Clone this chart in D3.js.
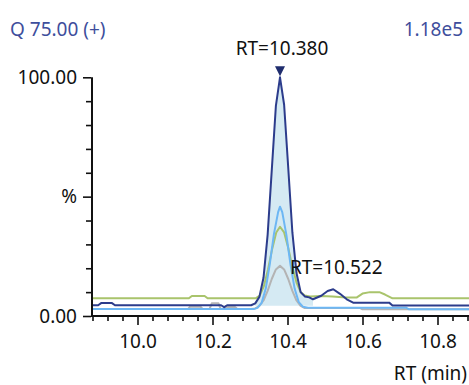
<!DOCTYPE html>
<html>
<head>
<meta charset="utf-8">
<script src="https://cdn.jsdelivr.net/npm/d3@7"></script>
<style>
  html, body { margin: 0; padding: 0; background: #ffffff; }
  svg { display: block; }
  text { font-family: "Noto Sans", "DejaVu Sans", sans-serif; }
</style>
</head>
<body>
<svg id="chart" width="469" height="385"></svg>
<script>
// Chromatogram traces: retention time (min) and relative intensity (%)
const navyRT  = [9.879, 9.895, 9.903, 9.932, 9.940, 10.223, 10.231, 10.239, 10.303, 10.314, 10.325, 10.336, 10.347, 10.358, 10.369, 10.380, 10.391, 10.402, 10.413, 10.424, 10.435, 10.446, 10.458, 10.468, 10.490, 10.507, 10.522, 10.540, 10.558, 10.575, 10.671, 10.680, 10.884];
const navyVal = [4.5, 4.5, 5.4, 5.4, 4.5, 4.5, 3.7, 4.5, 4.5, 5.3, 8.0, 16.0, 34.0, 61.0, 88.0, 100.0, 88.5, 62.0, 35.0, 18.0, 10.0, 8.2, 7.8, 7.0, 8.5, 10.5, 11.2, 9.3, 7.0, 5.6, 5.6, 4.4, 4.4];

const greenRT  = [9.879, 10.137, 10.145, 10.179, 10.187, 10.315, 10.326, 10.337, 10.348, 10.359, 10.370, 10.380, 10.391, 10.402, 10.413, 10.424, 10.435, 10.446, 10.460, 10.490, 10.520, 10.555, 10.585, 10.600, 10.620, 10.645, 10.660, 10.680, 10.884];
const greenVal = [7.4, 7.4, 8.4, 8.4, 7.4, 7.4, 8.5, 12.5, 19.5, 28.0, 35.0, 37.4, 35.0, 28.5, 20.5, 14.0, 10.0, 8.6, 8.2, 8.4, 8.2, 7.8, 7.8, 9.4, 10.0, 10.0, 9.0, 7.4, 7.4];

const skyRT  = [9.879, 10.310, 10.320, 10.331, 10.342, 10.353, 10.364, 10.375, 10.380, 10.386, 10.397, 10.408, 10.419, 10.430, 10.441, 10.455, 10.716, 10.724, 10.884];
const skyVal = [2.9, 2.9, 3.4, 5.5, 11.5, 22.0, 34.5, 43.5, 45.8, 43.5, 34.0, 21.5, 11.5, 5.8, 3.9, 3.5, 3.5, 2.8, 2.8];

const greyRT  = [9.879, 10.135, 10.140, 10.168, 10.174, 10.192, 10.198, 10.216, 10.222, 10.232, 10.238, 10.260, 10.266, 10.303, 10.314, 10.325, 10.336, 10.347, 10.358, 10.369, 10.380, 10.391, 10.402, 10.413, 10.424, 10.435, 10.446, 10.460, 10.594, 10.600, 10.884];
const greyVal = [2.9, 2.9, 3.9, 3.9, 2.9, 2.9, 5.3, 5.3, 2.9, 2.9, 3.8, 3.8, 2.9, 2.9, 3.2, 4.2, 6.5, 10.5, 15.5, 19.5, 21.0, 19.5, 15.5, 10.5, 6.5, 4.2, 3.3, 3.3, 3.3, 2.8, 2.8];

// Integrated peak window and its baseline
const peakWindow = [10.312, 10.468];
const peakBaseline = 4.3;

// Annotated apexes
const apexRT = [10.380, 10.522];
const apexVal = [100.0, 11.2];
const apexLabels = ["RT=10.380", "RT=10.522"];

// Axis ticks
const xMinorTicks = d3.range(0, 26).map(i => +(9.88 + i * 0.04).toFixed(2));
const xMajorTicks = [10.0, 10.2, 10.4, 10.6, 10.8];
const xTickLabels = ["10.0", "10.2", "10.4", "10.6", "10.8"];
const yMinorTicks = [10, 20, 30, 40, 60, 70, 80, 90];
const yMajorTicks = [0, 50, 100];
const yTickLabels = ["0.00", "%", "100.00"];

const titleText = "Q 75.00 (+)";
const scaleText = "1.18e5";
const xAxisTitle = "RT (min)";

const svg = d3.select("#chart");

const x = d3.scaleLinear().domain([9.88, 10.884]).range([92.5, 469]);
const y = d3.scaleLinear().domain([0, 100]).range([316, 77.3]);

const toPts = (rts, vals) => rts.map((r, i) => [r, vals[i]]);
const line = d3.line().x(d => x(d[0])).y(d => y(d[1]));

// Shaded peak area between the navy trace and the baseline
const navyPts = toPts(navyRT, navyVal);
const inWin = navyPts.filter(d => d[0] >= peakWindow[0] && d[0] <= peakWindow[1]);
const area = d3.area().x(d => x(d[0])).y0(y(peakBaseline)).y1(d => y(d[1]));
svg.append("path")
  .datum([[peakWindow[0], peakBaseline + 0.8], ...inWin, [peakWindow[1], 7.1]])
  .attr("d", area)
  .attr("fill", "#d5eaf3");

const traces = [
  { pts: toPts(greyRT, greyVal), color: "#b4b4b4" },
  { pts: toPts(greenRT, greenVal), color: "#a9c46c" },
  { pts: toPts(skyRT, skyVal), color: "#6db7f4" },
  { pts: navyPts, color: "#2c3c8c" }
];
traces.forEach(t => {
  svg.append("path")
    .datum(t.pts)
    .attr("d", line)
    .attr("fill", "none")
    .attr("stroke", t.color)
    .attr("stroke-width", 2)
    .attr("stroke-linejoin", "round");
});

// Axes
const axisColor = "#111";
const xMinor = svg.append("g").attr("transform", "translate(0,317)")
  .call(d3.axisBottom(x).tickValues(xMinorTicks.filter(v => !xMajorTicks.some(m => Math.abs(m - v) < 1e-6))).tickSize(4).tickFormat(""));
const xMajor = svg.append("g").attr("transform", "translate(0,317)")
  .call(d3.axisBottom(x).tickValues(xMajorTicks).tickSize(8).tickPadding(10)
    .tickFormat((d, i) => xTickLabels[i]));
[xMinor, xMajor].forEach(g => {
  g.select(".domain").remove();
  g.selectAll("line").attr("stroke", axisColor).attr("stroke-width", 1.6);
});
xMajor.selectAll("text").attr("font-size", 19).attr("fill", "#111")
  .attr("font-family", "Noto Sans");

const yMinor = svg.append("g").attr("transform", "translate(91,0)")
  .call(d3.axisLeft(y).tickValues(yMinorTicks).tickSize(5).tickFormat(""));
const yMajor = svg.append("g").attr("transform", "translate(91,0)")
  .call(d3.axisLeft(y).tickValues(yMajorTicks).tickSize(8).tickPadding(6)
    .tickFormat((d, i) => yTickLabels[i]));
[yMinor, yMajor].forEach(g => {
  g.select(".domain").remove();
  g.selectAll("line").attr("stroke", axisColor).attr("stroke-width", 1.6);
});
yMajor.selectAll("text").attr("font-size", 19).attr("fill", "#111")
  .attr("font-family", "Noto Sans");

// Axis lines
svg.append("line").attr("x1", 92).attr("x2", 92).attr("y1", y(100)).attr("y2", 317)
  .attr("stroke", axisColor).attr("stroke-width", 2);
svg.append("line").attr("x1", 91).attr("x2", 469).attr("y1", 316).attr("y2", 316)
  .attr("stroke", axisColor).attr("stroke-width", 2);

// Apex marker for the main peak
const mx = x(apexRT[0]), my = y(apexVal[0]);
svg.append("path")
  .attr("d", `M${mx - 5},${my - 11} L${mx + 5},${my - 11} L${mx},${my - 1} Z`)
  .attr("fill", "#1f2d6e");

// Apex labels
svg.append("text").attr("x", mx + 2).attr("y", 55)
  .attr("text-anchor", "middle").attr("font-size", 19).attr("fill", "#111")
  .text(apexLabels[0]);
svg.append("text").attr("x", x(apexRT[1]) + 3).attr("y", 274)
  .attr("text-anchor", "middle").attr("font-size", 19).attr("fill", "#111")
  .text(apexLabels[1]);

// Header texts
svg.append("text").attr("x", 10).attr("y", 35.5)
  .attr("font-size", 19).attr("fill", "#3e4e9c").text(titleText);
svg.append("text").attr("x", 463).attr("y", 35.5).attr("text-anchor", "end")
  .attr("font-size", 19).attr("fill", "#3e4e9c").text(scaleText);

// X axis title
svg.append("text").attr("x", 467).attr("y", 380).attr("text-anchor", "end")
  .attr("font-size", 19).attr("fill", "#111").text(xAxisTitle);
</script>
</body>
</html>
